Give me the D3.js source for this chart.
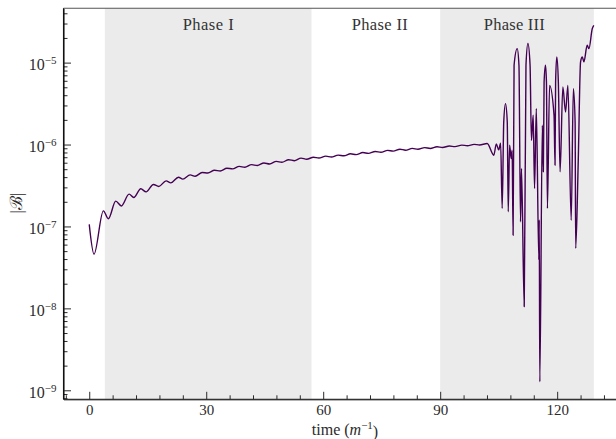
<!DOCTYPE html>
<html><head><meta charset="utf-8">
<script src="https://cdn.jsdelivr.net/npm/d3@7"></script>
<style>
html,body{margin:0;padding:0;background:#fff;}
svg{display:block;font-family:"Liberation Serif","Times New Roman",serif;}
</style></head>
<body><svg id="chart" width="616" height="439"></svg>
<script>
// ---- data ----
const time = [
  0, 1.23, 3.62, 4.90, 6.80, 8.24, 10.22, 11.42, 13.22, 14.58, 16.46, 17.84, 19.72, 20.92, 22.88, 24.0, 25.88, 27.16, 28.96,
  30.4, 32.13, 33.6, 35.3, 36.75, 38.47, 39.9, 41.64, 43.1, 44.81, 46.25, 47.98, 49.4, 51.15, 52.6, 54.32, 55.75, 57.49, 58.9,
  60.66, 62.1, 63.83, 65.3, 67.0, 68.45, 70.17, 71.6, 73.34, 74.8, 76.51, 77.95, 79.68, 81.1, 82.85, 84.3, 86.02, 87.45, 89.19,
  90.6, 92.36, 93.8, 95.53, 96.95, 98.7, 100.1, 102.05, 103.75, 104.4, 105.0, 105.5, 105.9,
  106.3, 106.75, 107.2, 107.45, 107.8, 108.2, 108.45, 108.7, 108.95, 109.75, 110.2, 110.6, 110.85, 111.55,
  112.0, 112.5, 113.05, 113.4, 113.85, 114.2, 114.65, 115.3, 115.4, 115.55,
  116.2, 116.45, 116.65, 117.0, 117.25, 117.5, 118.05, 119.2, 119.45, 119.6, 119.9, 120.3, 120.75,
  121.45, 122.15, 122.75, 123.6, 124.15, 124.6, 124.75,
  125.4, 126.0, 126.45, 126.85, 127.7, 128.15, 129.0, 129.4
];
const bMag = [
  1.06e-7, 4.59e-8, 1.55e-7, 1.24e-7, 2.04e-7, 1.78e-7, 2.48e-7, 2.26e-7, 2.88e-7, 2.64e-7, 3.25e-7, 3.08e-7, 3.60e-7, 3.40e-7, 3.99e-7, 3.78e-7, 4.26e-7, 4.10e-7, 4.56e-7,
  4.50e-7, 4.85e-7, 4.76e-7, 5.14e-7, 5.04e-7, 5.41e-7, 5.28e-7, 5.68e-7, 5.55e-7, 5.96e-7, 5.79e-7, 6.22e-7, 6.07e-7, 6.53e-7, 6.35e-7, 6.82e-7, 6.61e-7, 7.00e-7, 6.84e-7,
  7.21e-7, 7.03e-7, 7.43e-7, 7.29e-7, 7.71e-7, 7.53e-7, 7.98e-7, 7.80e-7, 8.22e-7, 8.04e-7, 8.49e-7, 8.30e-7, 8.77e-7, 8.53e-7, 8.97e-7, 8.75e-7, 9.18e-7, 8.95e-7, 9.40e-7,
  9.20e-7, 9.59e-7, 9.42e-7, 9.84e-7, 9.66e-7, 1.005e-6, 9.89e-7, 1.03e-6, 7.41e-7, 1.02e-6, 8.6e-7, 1.04e-6, 1.66e-7,
  1.89e-6, 3.16e-6, 1.89e-6, 1.51e-7, 9.8e-7, 6.75e-7, 8.5e-7, 7.8e-8, 9.3e-6, 1.48e-5, 9.3e-6, 1.14e-7, 5.1e-7, 1.05e-8,
  9.3e-6, 1.71e-5, 9.3e-6, 1.12e-6, 2.28e-6, 2.9e-7, 2.75e-6, 3.9e-8, 1.2e-7, 1.27e-9,
  1.72e-6, 4.64e-7, 5.8e-6, 9.27e-6, 5.8e-6, 1.66e-7, 5.28e-6, 2.27e-6, 5.6e-7, 5.8e-6, 1.17e-5, 5.8e-6, 4.64e-7,
  5.04e-6, 2.5e-6, 5.28e-6, 1.19e-7, 4.82e-6, 1.89e-6, 5.4e-8,
  6.14e-7, 1.02e-5, 1.17e-5, 1.02e-5, 1.63e-5, 1.48e-5, 2.6e-5, 2.85e-5
];
const phaseNames = ["Phase I", "Phase II", "Phase III"];
const phaseStart = [4, 57, 90];
const phaseEnd = [57, 90, 129.4];
const phaseShaded = [true, false, true];
const phaseLabelT = [30.5, 74.5, 109];
const xTickValues = [0, 30, 60, 90, 120];
const xMinorValues = [-6, 6, 12, 18, 24, 36, 42, 48, 54, 66, 72, 78, 84, 96, 102, 108, 114, 126, 132];
const yTickExponents = [-9, -8, -7, -6, -5];

// ---- layout ----
const svg = d3.select("#chart");
const L = 63.5, R = 618, T = 8.3, B = 399.3;
const x = d3.scaleLinear().domain([-6.6, 135.6]).range([L, R]);
const y = d3.scaleLog().domain([Math.pow(10, -9.11), Math.pow(10, -4.337)]).range([B, T]);
const ink = "#2b2b2b";

svg.append("rect").attr("width", 616).attr("height", 439).attr("fill", "#fff");

svg.append("defs").append("clipPath").attr("id", "clip")
  .append("rect").attr("x", L).attr("y", T).attr("width", R - L).attr("height", B - T);

// shaded phases
svg.append("g").selectAll("rect").data(phaseNames.map((n, i) => i).filter(i => phaseShaded[i]))
  .join("rect")
  .attr("x", i => x(phaseStart[i])).attr("width", i => x(phaseEnd[i]) - x(phaseStart[i]))
  .attr("y", T).attr("height", B - T).attr("fill", "#ebebeb");

// phase labels
svg.append("g").selectAll("text").data(phaseNames)
  .join("text")
  .attr("x", (d, i) => x(phaseLabelT[i])).attr("y", 30)
  .attr("text-anchor", "middle").attr("font-size", "16.5px").attr("fill", "#333")
  .attr("textLength", (d, i) => [51, 56, 61][i]).attr("lengthAdjust", "spacing")
  .text(d => d);

// line
const line = d3.line().x((d, i) => x(time[i])).y((d, i) => y(bMag[i])).curve(d3.curveMonotoneX);
svg.append("path").datum(bMag).attr("clip-path", "url(#clip)")
  .attr("d", line).attr("fill", "none").attr("stroke", "#440154").attr("stroke-width", 1.4)
  .attr("stroke-linejoin", "round");

// x axis
const gx = svg.append("g").attr("transform", `translate(0,${B})`);
gx.call(d3.axisBottom(x).tickValues(xMinorValues).tickSizeInner(-4).tickSizeOuter(0).tickFormat(""));
gx.select(".domain").remove();
const gx2 = svg.append("g").attr("transform", `translate(0,${B})`);
gx2.call(d3.axisBottom(x).tickValues(xTickValues).tickSizeInner(-7.5).tickSizeOuter(0).tickPadding(5).tickFormat(d3.format("d")));
gx2.selectAll("text").attr("font-size", "15px").attr("fill", ink).attr("font-family", "Liberation Serif");

// y axis
const minorY = [];
for (let e = -10; e <= -5; e++) for (let k = 2; k <= 9; k++) {
  const v = k * Math.pow(10, e);
  if (v >= y.domain()[0] && v <= y.domain()[1]) minorY.push(v);
}
const gy = svg.append("g").attr("transform", `translate(${L},0)`);
gy.call(d3.axisLeft(y).tickValues(minorY).tickSizeInner(-4).tickSizeOuter(0).tickFormat(""));
gy.select(".domain").remove();
const gy2 = svg.append("g").attr("transform", `translate(${L},0)`);
gy2.call(d3.axisLeft(y).tickValues(yTickExponents.map(e => Math.pow(10, e))).tickSizeInner(-7.5).tickSizeOuter(0).tickPadding(7).tickFormat(() => ""));
gy2.selectAll(".tick text").each(function (d) {
  const t = d3.select(this).attr("fill", ink).attr("font-family", "Liberation Serif").attr("font-size", "16px").attr("dy", "0.45em");
  t.append("tspan").text("10");
  t.append("tspan").attr("dy", "-0.55em").attr("font-size", "11px").text("\u2212" + Math.abs(Math.round(Math.log10(d))));
});

[gx, gx2, gy, gy2].forEach(g => g.selectAll("line").attr("stroke", ink).attr("stroke-width", 1));

// spines
svg.append("line").attr("x1", L).attr("x2", R).attr("y1", T).attr("y2", T).attr("stroke", "#555").attr("stroke-width", 1.1);
svg.append("line").attr("x1", L).attr("x2", R).attr("y1", B).attr("y2", B).attr("stroke", ink).attr("stroke-width", 1.1);
svg.append("line").attr("x1", L).attr("x2", L).attr("y1", T).attr("y2", B).attr("stroke", "#111").attr("stroke-width", 1.1);

// axis labels
const xl = svg.append("text").attr("x", 345).attr("y", 434.5).attr("text-anchor", "middle")
  .attr("font-size", "16px").attr("fill", ink);
xl.append("tspan").text("time (");
xl.append("tspan").attr("font-style", "italic").text("m");
xl.append("tspan").attr("dy", "-0.5em").attr("font-size", "11px").text("\u22121");
xl.append("tspan").attr("dy", "0.5em").text(")");

svg.append("text").attr("transform", "translate(22,203) rotate(-90)").attr("text-anchor", "middle")
  .attr("font-size", "17px").attr("fill", ink)
  .text("|\u212C|");
</script></body></html>
